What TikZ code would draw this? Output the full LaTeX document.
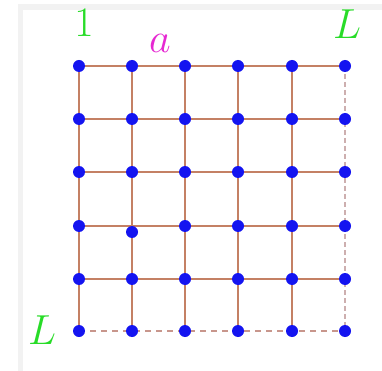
\documentclass[tikz,border=0pt]{standalone}
\usepackage{fix-cm}
\usetikzlibrary{calc}
\definecolor{edgec}{RGB}{196,128,100}
\definecolor{dashc}{RGB}{200,150,140}
\definecolor{vdashc}{RGB}{205,175,175}
\definecolor{dotc}{RGB}{20,20,240}
\definecolor{lblg}{RGB}{40,220,40}
\definecolor{lblm}{RGB}{230,40,210}
\definecolor{framec}{RGB}{242,242,242}
\begin{document}
\begin{tikzpicture}[x=1pt,y=-1pt,
  site/.style={circle,fill=dotc,inner sep=0pt,minimum size=12pt},
  bond/.style={draw=edgec,line width=1.8pt},
  dbond/.style={draw=dashc,line width=1.4pt,dash pattern=on 6pt off 5pt},
  vbond/.style={draw=vdashc,line width=1.4pt,dash pattern=on 5pt off 3pt},
  lbl/.style={font=\fontsize{42}{42}\selectfont,inner sep=0pt}]
\useasboundingbox (0,0) rectangle (382,371);
\fill[white] (0,0) rectangle (382,371);
\fill[framec] (18,4) rectangle (382,10);
\fill[framec] (18,4) rectangle (23,371);
% coordinates
\foreach \i/\x in {1/79,2/132,3/185,4/238,5/292,6/345}{
  \foreach \j/\y in {1/66,2/119,3/172,4/226,5/279,6/331}{
    \coordinate (p\i\j) at (\x,\y);
  }
}
\coordinate (p24) at (132,232);
% horizontal bonds rows 1-5
\foreach \j in {1,...,5}{
  \draw[bond] (p1\j) -- (p6\j);
}
% vertical bonds columns 1-5
\foreach \i in {1,...,5}{
  \draw[bond] (p\i1) -- (p\i6);
}
% dashed boundary
\draw[dbond] (p16) -- (p66);
\draw[vbond] (p61) -- (p66);
% sites
\foreach \i in {1,...,6}{
  \foreach \j in {1,...,6}{
    \node[site] (s\i\j) at (p\i\j) {};
  }
}
% labels
\node[lbl,text=lblg] (one) at (84,23) {$1$};
\node[lbl,text=lblm] (a) at (160,43) {$a$};
\node[lbl,text=lblg] (Ltop) at (347,24) {$L$};
\node[lbl,text=lblg] (Lbot) at (42,330) {$L$};
\end{tikzpicture}
\end{document}
